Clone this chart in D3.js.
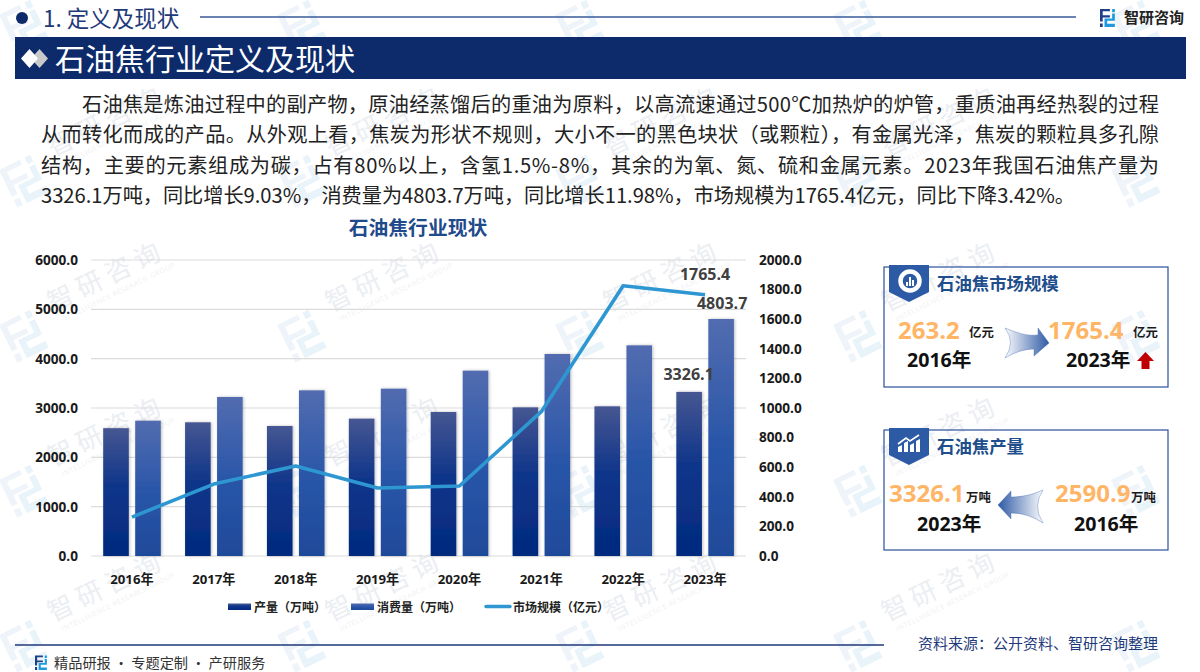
<!DOCTYPE html>
<html>
<head>
<meta charset="utf-8">
<script src="https://cdn.jsdelivr.net/npm/d3@7/dist/d3.min.js"></script>
<style>
  html, body { margin: 0; padding: 0; background: #fff; }
  svg { display: block; }
  text { font-family: "Noto Sans CJK SC", "Noto Sans", sans-serif; }
  .num { font-family: "Open Sans", "Noto Sans CJK SC", sans-serif; }
</style>
</head>
<body>
<svg width="1200" height="672"></svg>
<script>
var years = ["2016年", "2017年", "2018年", "2019年", "2020年", "2021年", "2022年", "2023年"];
var production = [2590.9, 2710, 2635, 2784, 2919, 3013, 3034, 3326.1];
var consumption = [2743, 3223, 3358, 3392, 3757, 4095, 4270, 4803.7];
var marketSize = [263.2, 486, 608, 459, 473, 975, 1826, 1765.4];
var leftTicks = [0, 1000, 2000, 3000, 4000, 5000, 6000];
var rightTicks = [0, 200, 400, 600, 800, 1000, 1200, 1400, 1600, 1800, 2000];
var bodyLines = [
  "石油焦是炼油过程中的副产物，原油经蒸馏后的重油为原料，以高流速通过500℃加热炉的炉管，重质油再经热裂的过程",
  "从而转化而成的产品。从外观上看，焦炭为形状不规则，大小不一的黑色块状（或颗粒），有金属光泽，焦炭的颗粒具多孔隙",
  "结构，主要的元素组成为碳，占有80%以上，含氢1.5%-8%，其余的为氧、氮、硫和金属元素。2023年我国石油焦产量为",
  "3326.1万吨，同比增长9.03%，消费量为4803.7万吨，同比增长11.98%，市场规模为1765.4亿元，同比下降3.42%。"
];

var svg = d3.select("svg");
var defs = svg.append("defs");

function vGrad(id, stops) {
  var g = defs.append("linearGradient").attr("id", id)
    .attr("x1", 0).attr("y1", 0).attr("x2", 0).attr("y2", 1);
  stops.forEach(function(s) {
    g.append("stop").attr("offset", s[0]).attr("stop-color", s[1]);
  });
}
vGrad("gradProd", [[0, "#465792"], [0.45, "#0f358a"], [1, "#022a7e"]]);
vGrad("gradCons", [[0, "#526cb0"], [0.55, "#2855a8"], [1, "#1f4a9a"]]);

var arrowR = defs.append("linearGradient").attr("id", "arrowR");
arrowR.append("stop").attr("offset", 0).attr("stop-color", "#2f5aa5").attr("stop-opacity", 0.02);
arrowR.append("stop").attr("offset", 1).attr("stop-color", "#2f5aa5");
var arrowL = defs.append("linearGradient").attr("id", "arrowL");
arrowL.append("stop").attr("offset", 0).attr("stop-color", "#2f5aa5");
arrowL.append("stop").attr("offset", 1).attr("stop-color", "#2f5aa5").attr("stop-opacity", 0.02);

var shadow = defs.append("filter").attr("id", "barShadow")
  .attr("x", "-20%").attr("y", "-5%").attr("width", "140%").attr("height", "110%");
shadow.append("feDropShadow").attr("dx", 1).attr("dy", 0).attr("stdDeviation", 1.4)
  .attr("flood-color", "#000").attr("flood-opacity", 0.25);

// company logo, 40 x 40 units
function logo(g, left, right) {
  g.append("path").attr("fill", left)
    .attr("d", "M0 0H22V5H6V14H22V19H6V28H0Z M0 32H6V40H0Z");
  g.append("path").attr("fill", right)
    .attr("d", "M27 0H33V7H27Z M27 10H33V26H16V33H33V40H10V21H27Z");
}

// watermark tiles
var wmLayer = svg.append("g").attr("class", "watermark");
var wmX = [-225, 53, 331, 609, 887, 1165];
var wmY = [2, 157, 312, 467, 622];

wmY.forEach(function(y) {
  wmX.forEach(function(x) {
    var m = wmLayer.append("g")
      .attr("transform", "translate(" + (x - 54) + "," + (y + 13) + ") rotate(-26) scale(1.05)");
    logo(m, "#eef4f9", "#e9f3fa");
    // only tiles that fit the page get the words
    if (x < 0 || x + 125 > 1200 || y < 60) return;
    var t = wmLayer.append("g")
      .attr("transform", "translate(" + x + "," + y + ") rotate(-26)");
    t.append("text").attr("font-size", 26).attr("fill", "#ebeef2").attr("letter-spacing", 6).text("智研咨询");
    t.append("text").attr("class", "num").attr("x", 5).attr("y", 13).attr("font-size", 7)
      .attr("fill", "#eff1f4").attr("letter-spacing", 0.6).text("INTELLIGENCE RESEARCH GROUP");
  });
});

// header
svg.append("circle").attr("cx", 22).attr("cy", 18).attr("r", 6).attr("fill", "#0d2a6b");
svg.append("text").attr("x", 43).attr("y", 27).attr("font-size", 22.5).attr("fill", "#1f3a7a").text("1. 定义及现状");
svg.append("line").attr("x1", 200).attr("x2", 1076).attr("y1", 17).attr("y2", 17)
  .attr("stroke", "#3a5a9a").attr("stroke-width", 1.3);
var headLogo = svg.append("g").attr("transform", "translate(1100,9) scale(0.45)");
logo(headLogo, "#1f3f8a", "#1e9be0");
svg.append("text").attr("x", 1124).attr("y", 23).attr("font-size", 15).attr("font-weight", 700)
  .attr("fill", "#222").text("智研咨询");

svg.append("rect").attr("x", 15).attr("y", 37).attr("width", 1171).attr("height", 42).attr("fill", "#0d2a6b");
svg.append("path").attr("fill", "#c9c9c9").attr("d", "M39.5 49L48 58.5L39.5 68L31 58.5Z");
svg.append("path").attr("fill", "#ffffff").attr("d", "M29.5 49L38 58.5L29.5 68L21 58.5Z");
svg.append("text").attr("x", 55).attr("y", 70).attr("font-size", 30).attr("fill", "#fff").text("石油焦行业定义及现状");

// body paragraph
var lineLengths = [1077, 1118, 1118, 1034];
svg.selectAll("text.body").data(bodyLines).enter().append("text")
  .attr("class", "body")
  .attr("x", function(d, i) { return i === 0 ? 82 : 41; })
  .attr("y", function(d, i) { return 112 + i * 30.3; })
  .attr("font-size", 20.2).attr("fill", "#222")
  .attr("textLength", function(d, i) { return lineLengths[i]; })
  .attr("lengthAdjust", "spacing")
  .text(function(d) { return d; });

// chart
var x0 = d3.scaleBand().domain(years).range([91, 746]);
var xInner = d3.scaleBand().domain(["p", "c"]).range([12.2, 69.8]).paddingInner(0.2);
var yLeft = d3.scaleLinear().domain([0, 6000]).range([556, 260]);
var yRight = d3.scaleLinear().domain([0, 2000]).range([556, 260]);

svg.append("text").attr("x", 418).attr("y", 235).attr("text-anchor", "middle")
  .attr("font-size", 19.8).attr("font-weight", 700).attr("fill", "#1f4a8c").text("石油焦行业现状");

svg.append("g").selectAll("line").data(leftTicks).enter().append("line")
  .attr("x1", 91).attr("x2", 746)
  .attr("y1", function(d) { return yLeft(d); })
  .attr("y2", function(d) { return yLeft(d); })
  .attr("stroke", "#dcdcdc").attr("stroke-width", 1.2);

var axisL = svg.append("g").attr("transform", "translate(81,0)")
  .call(d3.axisLeft(yLeft).tickValues(leftTicks).tickSize(0).tickFormat(d3.format(".1f")));
var axisR = svg.append("g").attr("transform", "translate(756,0)")
  .call(d3.axisRight(yRight).tickValues(rightTicks).tickSize(0).tickFormat(d3.format(".1f")));
var axisB = svg.append("g").attr("transform", "translate(0,556)")
  .call(d3.axisBottom(x0).tickSize(0).tickPadding(14));
[axisL, axisR, axisB].forEach(function(a) {
  a.select(".domain").remove();
  a.selectAll("text")
    .style("font-family", "'Open Sans','Noto Sans CJK SC',sans-serif")
    .attr("font-size", 13.6).attr("font-weight", 700).attr("fill", "#1a1a1a");
});
axisB.selectAll("text").attr("font-size", 13.2).attr("dy", "1.05em");

var groups = svg.append("g").selectAll("g").data(years).enter().append("g")
  .attr("transform", function(d) { return "translate(" + x0(d) + ",0)"; });
groups.append("rect")
  .attr("x", xInner("p")).attr("width", xInner.bandwidth())
  .attr("y", function(d, i) { return yLeft(production[i]); })
  .attr("height", function(d, i) { return 556 - yLeft(production[i]); })
  .attr("fill", "url(#gradProd)").attr("filter", "url(#barShadow)");
groups.append("rect")
  .attr("x", xInner("c")).attr("width", xInner.bandwidth())
  .attr("y", function(d, i) { return yLeft(consumption[i]); })
  .attr("height", function(d, i) { return 556 - yLeft(consumption[i]); })
  .attr("fill", "url(#gradCons)").attr("filter", "url(#barShadow)");

var line = d3.line()
  .x(function(d, i) { return x0(years[i]) + x0.bandwidth() / 2; })
  .y(function(d) { return yRight(d); });
svg.append("path").datum(marketSize).attr("d", line)
  .attr("fill", "none").attr("stroke", "#2e97d2").attr("stroke-width", 3.6).attr("stroke-linejoin", "round");

function dataLabel(x, y, t) {
  svg.append("text").attr("class", "num").attr("x", x).attr("y", y).attr("text-anchor", "middle")
    .attr("font-size", 16).attr("font-weight", 700).attr("fill", "#404040").text(t);
}
var last = years.length - 1;
var lastX = x0(years[last]);
dataLabel(lastX + x0.bandwidth() / 2, yRight(marketSize[last]) - 15, marketSize[last].toFixed(1));
dataLabel(lastX + xInner("c") + xInner.bandwidth() / 2 + 1, yLeft(consumption[last]) - 10, consumption[last].toFixed(1));
dataLabel(lastX + xInner("p") + xInner.bandwidth() / 2 - 0.5, yLeft(production[last]) - 12, production[last].toFixed(1));

// legend
var legend = svg.append("g");
legend.append("rect").attr("x", 228).attr("y", 603.5).attr("width", 23).attr("height", 6.5).attr("fill", "url(#gradProd)");
legend.append("text").attr("x", 254).attr("y", 612).attr("font-size", 12).attr("font-weight", 700).attr("fill", "#222").text("产量（万吨）");
legend.append("rect").attr("x", 351).attr("y", 603.5).attr("width", 23).attr("height", 6.5).attr("fill", "url(#gradCons)");
legend.append("text").attr("x", 377).attr("y", 612).attr("font-size", 12).attr("font-weight", 700).attr("fill", "#222").text("消费量（万吨）");
legend.append("line").attr("x1", 486).attr("x2", 510).attr("y1", 606.5).attr("y2", 606.5)
  .attr("stroke", "#2e97d2").attr("stroke-width", 3.4).attr("stroke-linecap", "round");
legend.append("text").attr("x", 513).attr("y", 612).attr("font-size", 12).attr("font-weight", 700).attr("fill", "#222").text("市场规模（亿元）");

// side panels
function panel(y, title) {
  svg.append("rect").attr("x", 884).attr("y", y).attr("width", 284).attr("height", 120)
    .attr("fill", "none").attr("stroke", "#2a4f9a").attr("stroke-width", 1.2);
  svg.append("path").attr("fill", "#2c5aa5")
    .attr("d", "M889 " + (y - 2) + "H929V" + (y + 25) + "L909 " + (y + 35) + "L889 " + (y + 25) + "Z");
  svg.append("text").attr("x", 937).attr("y", y + 23).attr("font-size", 17.4).attr("font-weight", 700)
    .attr("fill", "#1f4e8c").text(title);
}
panel(267, "石油焦市场规模");
panel(430, "石油焦产量");

// panel icons
svg.append("circle").attr("cx", 910).attr("cy", 281).attr("r", 9.5).attr("fill", "none")
  .attr("stroke", "#fff").attr("stroke-width", 4.5);
svg.append("path").attr("fill", "#fff").attr("d", "M906 286V282H908V286Z M909 286V277H911V286Z M912 286V280H914V286Z");
svg.append("path").attr("fill", "#fff").attr("d", "M898 452V447L902 445V452Z M904 452V443L908 441V452Z M910 452V445L914 443V452Z M916 452V441L920 439V452Z");
svg.append("path").attr("fill", "none").attr("stroke", "#fff").attr("stroke-width", 1.6).attr("d", "M898 444L906 438L910 441L919 435");

function bigNum(x, y, t) {
  svg.append("text").attr("class", "num").attr("x", x).attr("y", y).attr("font-size", 24).attr("font-weight", 700)
    .attr("fill", "#ffb566").text(t);
}
function unit(x, y, t) {
  svg.append("text").attr("x", x).attr("y", y).attr("font-size", 12.4).attr("font-weight", 700).attr("fill", "#1a1a1a").text(t);
}
function yearLabel(x, y, t) {
  svg.append("text").attr("x", x).attr("y", y).attr("font-size", 19.6).attr("font-weight", 700)
    .attr("fill", "#111").style("font-family", "'Open Sans','Noto Sans CJK SC',sans-serif").text(t);
}
bigNum(898, 339, "263.2"); unit(969, 337, "亿元");
bigNum(1048, 339, "1765.4"); unit(1133, 337, "亿元");
yearLabel(907, 367, "2016年"); yearLabel(1066, 367, "2023年");
bigNum(889, 502, "3326.1"); unit(966, 502, "万吨");
bigNum(1055, 502, "2590.9"); unit(1131, 502, "万吨");
yearLabel(917, 531, "2023年"); yearLabel(1074, 531, "2016年");

svg.append("path").attr("fill", "url(#arrowR)").attr("stroke", "#2f5aa5").attr("stroke-opacity", 0.35)
  .attr("d", "M1005 328Q1026 337 1038 335V328L1049 343L1034 356V349Q1020 349 1005 358Q1016 342 1005 328Z");
svg.append("path").attr("fill", "#c00000").attr("d", "M1145.5 352L1154 361H1149.5V369H1141.5V361H1137Z");
svg.append("path").attr("fill", "url(#arrowL)").attr("stroke", "#2f5aa5").attr("stroke-opacity", 0.35)
  .attr("d", "M1043 490Q1028 497 1011 497V491L998 505L1011 519V513Q1028 513 1043 523Q1032 506 1043 490Z");

// footer
svg.append("line").attr("x1", 15).attr("x2", 884).attr("y1", 645).attr("y2", 645)
  .attr("stroke", "#1f3a7a").attr("stroke-width", 1.3);
var footLogo = svg.append("g").attr("transform", "translate(35,655.5) scale(0.36)");
logo(footLogo, "#1f3f8a", "#1e9be0");
svg.append("text").attr("x", 54).attr("y", 668).attr("font-size", 14.2).attr("fill", "#333").text("精品研报 · 专题定制 · 产研服务");
svg.append("text").attr("x", 918).attr("y", 649).attr("font-size", 15).attr("fill", "#1f3a7a").text("资料来源：公开资料、智研咨询整理");
</script>
</body>
</html>
